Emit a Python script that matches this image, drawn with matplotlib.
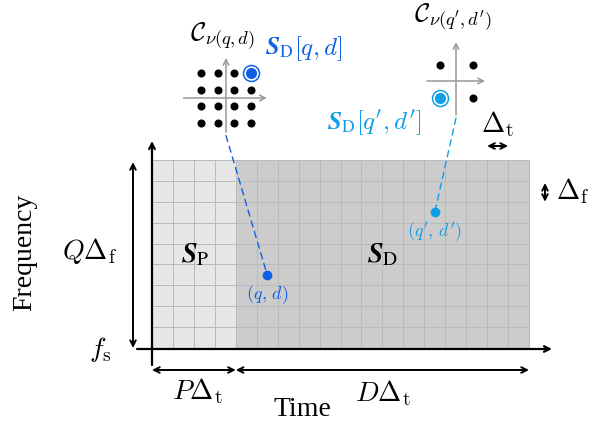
import matplotlib
matplotlib.use('Agg')
import matplotlib.pyplot as plt
from matplotlib.colors import ListedColormap
from matplotlib.patches import ConnectionPatch
import numpy as np

plt.rcParams['mathtext.fontset'] = 'cm'
plt.rcParams['font.family'] = ['Liberation Serif', 'DejaVu Serif']

# resource grid: Q subcarriers, P pilot symbols, D data symbols
Q = 9
P = 4
D = 14

# selected resource elements (time index d, frequency index q)
re_d = [5, 13]
re_q = [3, 6]
re_labels = [r'$(q,\,d)$', r"$(q',\,d')$"]
re_sym = [r'$[q,d]$', r"$[q',d']$"]
re_colors = ['#1060e6', '#0f9ee8']

# constellations (16-QAM and QPSK), the highlighted symbol index
qam16_i = [-3, -1, 1, 3] * 4
qam16_q = [3] * 4 + [1] * 4 + [-1] * 4 + [-3] * 4
qam16_sel = 3
qpsk_i = [-1, 1, -1, 1]
qpsk_q = [1, 1, -1, -1]
qpsk_sel = 2

W, H = 609, 429
fig = plt.figure(figsize=(W / 100, H / 100), dpi=100)
ax = fig.add_axes([0, 0, 1, 1])

# pixel placement of the grid
X0, Y0 = 152, 348
cw = 377 / (P + D)
ch = 188 / Q
ax.set_xlim(-X0 / cw, (W - X0) / cw)
ax.set_ylim((Y0 - H) / ch, Y0 / ch)
ax.axis('off')


def px(x, y):
    return (x - X0) / cw, (Y0 - y) / ch


cells = np.ones((Q, P + D))
cells[:, :P] = 0
ax.pcolormesh(np.arange(P + D + 1), np.arange(Q + 1), cells,
              cmap=ListedColormap(['#e6e6e6', '#cccccc']),
              edgecolors='#bababa', linewidth=0.6)

# axes arrows
ax.annotate('', xy=px(152, 141), xytext=px(152, 365),
            arrowprops=dict(arrowstyle='->', lw=1.6, color='k', shrinkA=0, shrinkB=0))
ax.annotate('', xy=px(552, 349), xytext=px(137, 349),
            arrowprops=dict(arrowstyle='->', lw=1.6, color='k', shrinkA=0, shrinkB=0))

# dimension arrows
dim = dict(arrowstyle='<->', lw=1.4, color='k', shrinkA=0, shrinkB=0)
xq = px(133, 0)[0]
ax.annotate('', xy=(xq, Q - 0.1), xytext=(xq, 0), arrowprops=dim)
yb = px(0, 370)[1]
ax.annotate('', xy=(0, yb), xytext=(P, yb), arrowprops=dim)
ax.annotate('', xy=(P, yb), xytext=(P + D, yb), arrowprops=dim)
yt = px(0, 146)[1]
ax.annotate('', xy=(P + D - 2, yt), xytext=(P + D - 1, yt), arrowprops=dim)
xf = px(545, 0)[0]
ax.annotate('', xy=(xf, Q - 2), xytext=(xf, Q - 1.1), arrowprops=dim)

# labels
ax.text(*px(25, 252), 'Frequency', rotation=90, fontsize=20, ha='center', va='center')
ax.text(*px(302, 410), 'Time', fontsize=20, ha='center', va='center')
ax.text(*px(90, 251), r'$Q\Delta_{\mathrm{f}}$', fontsize=20, ha='center', va='center')
ax.text(*px(112, 350), r'$f_{\mathrm{s}}$', fontsize=20, ha='right', va='center')
ax.text(*px(197, 391), r'$P\Delta_{\mathrm{t}}$', fontsize=20, ha='center', va='center')
ax.text(*px(383, 393), r'$D\Delta_{\mathrm{t}}$', fontsize=20, ha='center', va='center')
ax.text(*px(497, 124), r'$\Delta_{\mathrm{t}}$', fontsize=20, ha='center', va='center')
ax.text(*px(556, 191), r'$\Delta_{\mathrm{f}}$', fontsize=20, ha='left', va='center')
ax.text(*px(195, 255), r'$\boldsymbol{S}_{\mathrm{P}}$', fontsize=20, ha='center', va='center',
        math_fontfamily='stix')
ax.text(*px(383, 255), r'$\boldsymbol{S}_{\mathrm{D}}$', fontsize=20, ha='center', va='center',
        math_fontfamily='stix')

# selected resource elements
for d, q, lab, c in zip(re_d, re_q, re_labels, re_colors):
    ax.plot(d + 0.5, q + 0.5, 'o', color=c, ms=6, zorder=5)
    ax.text(d + 0.5, q - 0.45, lab, color=c, fontsize=13, ha='center', va='center')


def constellation(cx, cy, half, scale, xi, yq, sel, color, xr, yr):
    # inset with scale px/unit centred on (cx, cy) pixels
    cax = fig.add_axes([(cx - half) / W, (H - cy - half) / H, 2 * half / W, 2 * half / H])
    cax.set_xlim(-half / scale, half / scale)
    cax.set_ylim(-half / scale, half / scale)
    cax.axis('off')
    cax.patch.set_alpha(0)
    ar = dict(arrowstyle='->', lw=1.1, color='#999999', shrinkA=0, shrinkB=0)
    cax.annotate('', xy=(xr[1], 0), xytext=(xr[0], 0), arrowprops=ar)
    cax.annotate('', xy=(0, yr[1]), xytext=(0, yr[0]), arrowprops=ar)
    bx = [v for k, v in enumerate(xi) if k != sel]
    by = [v for k, v in enumerate(yq) if k != sel]
    cax.plot(bx, by, 'o', color='k', ms=4.8, ls='none', clip_on=False)
    cax.plot(xi[sel], yq[sel], 'o', color=color, ms=7, clip_on=False)
    cax.plot(xi[sel], yq[sel], 'o', mfc='none', mec=color, ms=11.5, mew=1.1, clip_on=False)
    return cax


c1 = constellation(226, 98, 50, 8.35, qam16_i, qam16_q, qam16_sel, re_colors[0], (-5.1, 4.9), (-4.1, 4.8))
c2 = constellation(456, 81, 45, 16.5, qpsk_i, qpsk_q, qpsk_sel, re_colors[1], (-1.76, 1.76), (-2.06, 2.36))

for cax, ystart, d, q, c in zip([c1, c2], [-4.5, -2.25], re_d, re_q, re_colors):
    con = ConnectionPatch(xyA=(0, ystart), coordsA=cax.transData,
                          xyB=(d + 0.5, q + 0.5), coordsB=ax.transData,
                          color=c, lw=1.0, ls=(0, (4.5, 3.5)))
    fig.add_artist(con)

ax.text(*px(222, 36), r'$\mathcal{C}_{\nu(q,d)}$', fontsize=19, ha='center', va='center')
ax.text(*px(453, 17), r"$\mathcal{C}_{\nu(q',d')}$", fontsize=19, ha='center', va='center')

# S_D[q,d] labels: bold-italic S from stix, the index part in computer modern
sym_pos = [(265, 55), (327, 130)]
heads = []
for (x, y), c in zip(sym_pos, re_colors):
    heads.append(ax.text(*px(x, y), r'$\boldsymbol{S}_{\mathrm{D}}$', fontsize=18, color=c,
                         ha='left', va='baseline', math_fontfamily='stix'))
fig.canvas.draw()
r = fig.canvas.get_renderer()
for t, (x, y), s, c in zip(heads, sym_pos, re_sym, re_colors):
    x1 = t.get_window_extent(r).x1
    xd = ax.transData.inverted().transform((x1 + 1, 0))[0]
    ax.text(xd, px(x, y)[1], s, fontsize=18, color=c, ha='left', va='baseline')

fig.savefig('out.png', dpi=100)
